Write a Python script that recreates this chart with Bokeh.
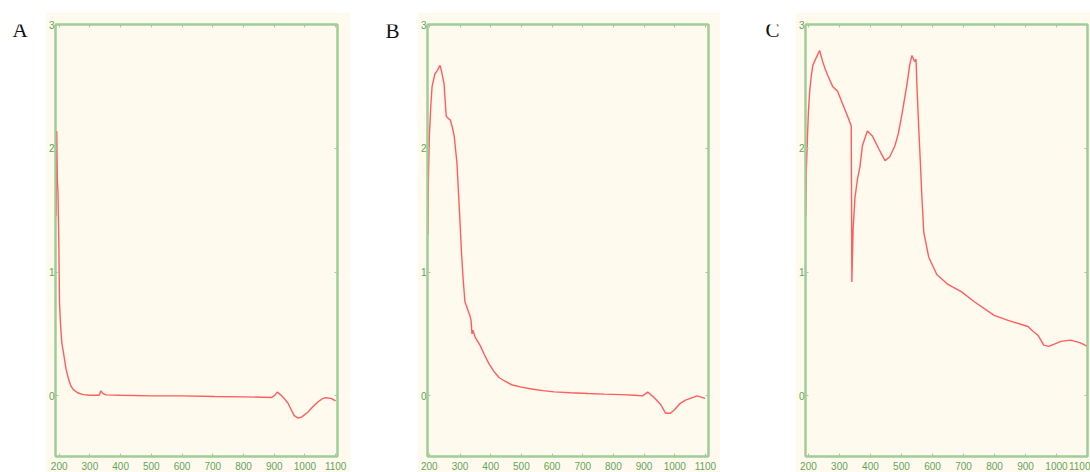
from bokeh.plotting import figure
from bokeh.models import Range1d, LinearAxis, FixedTicker, Label, CustomJSTickFormatter, Spacer
from bokeh.layouts import row, column
from bokeh.embed import file_html
from bokeh.resources import INLINE

x_ticks = [200, 300, 400, 500, 600, 700, 800, 900, 1000, 1100]
y_ticks = [0, 1, 2, 3]
panel_names = ["A", "B", "C"]

a_x = [190, 192, 194, 196, 199, 201, 205, 209, 214, 222, 230, 238, 246, 260, 278, 300, 330, 336, 342, 352,
       400, 500, 600, 707, 800, 891, 900, 910, 920, 932, 945, 955, 965, 978, 990, 1010, 1025, 1042, 1055, 1068, 1085, 1100]
a_y = [1.45, 2.14, 1.75, 1.65, 1.2, 0.75, 0.55, 0.42, 0.35, 0.22, 0.14, 0.08, 0.05, 0.025, 0.01, 0.005, 0.005, 0.04, 0.02, 0.008,
       0.005, 0.0, 0.0, -0.005, -0.008, -0.013, 0.0, 0.03, 0.01, -0.02, -0.06, -0.11, -0.16, -0.18, -0.17, -0.13, -0.09, -0.05, -0.025, -0.015, -0.02, -0.04]

b_x = [195, 197, 200, 205, 209, 218, 226, 235, 240, 248, 255, 262, 268, 275, 281, 290, 298, 305, 310, 316,
       332, 336, 339, 342, 350, 365, 380, 394, 410, 426, 445, 468, 500, 533, 570, 607, 660, 717, 770, 824,
       870, 895, 912, 931, 954, 970, 986, 1000, 1018, 1035, 1051, 1073, 1099]
b_y = [1.3, 1.75, 2.1, 2.35, 2.5, 2.6, 2.63, 2.67, 2.62, 2.52, 2.26, 2.24, 2.23, 2.17, 2.1, 1.88, 1.5, 1.15, 0.95, 0.76,
       0.65, 0.61, 0.5, 0.53, 0.47, 0.41, 0.33, 0.26, 0.2, 0.15, 0.12, 0.09, 0.07, 0.055, 0.042, 0.032, 0.025, 0.019, 0.014, 0.01,
       0.005, 0.0, 0.03, -0.01, -0.07, -0.14, -0.14, -0.11, -0.06, -0.035, -0.02, 0.0, -0.02]

c_x = [191, 193, 197, 200, 204, 209, 214, 223, 236, 246, 254, 262, 278, 294, 310, 326, 338, 340, 344, 350,
       358, 366, 374, 390, 406, 428, 447, 462, 479, 490, 502, 518, 527, 534, 539, 543, 547, 550, 555, 559,
       566, 572, 588, 614, 650, 694, 735, 799, 844, 895, 908, 925, 940, 959, 975, 995, 1014, 1046, 1075, 1100]
c_y = [1.45, 1.8, 2.1, 2.3, 2.46, 2.58, 2.67, 2.72, 2.79, 2.70, 2.64, 2.59, 2.50, 2.46, 2.36, 2.26, 2.18, 0.92, 1.35, 1.6,
       1.75, 1.85, 2.02, 2.14, 2.10, 1.99, 1.90, 1.93, 2.02, 2.12, 2.28, 2.52, 2.68, 2.75, 2.72, 2.70, 2.72, 2.50, 2.2, 1.99,
       1.6, 1.32, 1.12, 0.98, 0.9, 0.84, 0.76, 0.65, 0.61, 0.57, 0.56, 0.52, 0.49, 0.41, 0.40, 0.42, 0.44, 0.45, 0.43, 0.40]

CREAM = "#FFF9EE"
FRAME = "#9FCE97"
TXT = "#5FA657"
RED = "#FF5E5E"
TOP = 12
H = 460


def letter_fig(width, x, baseline, text):
    p = figure(width=width, height=H, x_range=Range1d(0, width), y_range=Range1d(0, H),
               x_axis_type=None, y_axis_type=None, toolbar_location=None, output_backend="svg",
               min_border=0, title=None)
    p.grid.visible = False
    p.outline_line_color = None
    p.background_fill_color = "white"
    p.border_fill_color = "white"
    p.add_layout(Label(x=x, y=H - baseline, text=text, text_font="Liberation Serif", text_font_size="21px",
                       text_color="#111111", text_baseline="alphabetic"))
    return p


def panel(xs, ys, width, xr, left, right, top):
    p = figure(width=width, height=H, x_range=Range1d(*xr), y_range=Range1d(-0.49, 3.0),
               toolbar_location=None, output_backend="svg", title=None,
               min_border_left=left, min_border_right=right, min_border_top=top, min_border_bottom=16)
    p.background_fill_color = CREAM
    p.border_fill_color = CREAM
    p.outline_line_color = FRAME
    p.outline_line_width = 2
    p.grid.visible = False
    p.add_layout(LinearAxis(), "right")
    p.add_layout(LinearAxis(), "above")
    p.xaxis.ticker = FixedTicker(ticks=x_ticks)
    p.yaxis.ticker = FixedTicker(ticks=y_ticks)
    for ax in p.axis:
        ax.axis_line_color = FRAME
        ax.axis_line_width = 2
        ax.major_tick_in = 3
        ax.major_tick_out = 0
        ax.major_tick_line_color = FRAME
        ax.minor_tick_line_color = None
        ax.major_label_text_color = TXT
        ax.major_label_text_font = "Liberation Sans"
        ax.major_label_text_font_size = "10px"
        ax.major_label_standoff = 1
    p.below[0].major_label_standoff = 5
    for ax in p.right + p.above:
        ax.formatter = CustomJSTickFormatter(code="return ''")
        ax.major_label_text_color = None
        ax.major_label_standoff = 0
    p.line(xs, ys, line_color=RED, line_width=1.4)
    return p


pa = panel(a_x, a_y, 305, (188, 1106), 6, 13, 10)
pb = panel(b_x, b_y, 303, (194, 1110), 7, 12, 12)
pc = panel(c_x, c_y, 295, (190.5, 1100), 7, 3, 11)

la = letter_fig(45, 12, 6, panel_names[0])
lb = letter_fig(67, 35, 7, panel_names[1])
lc = letter_fig(75, 45, 6, panel_names[2])

layout = column(Spacer(width=10, height=TOP), row(la, pa, lb, pb, lc, pc))

open("out.html", "w").write(file_html(layout, INLINE))
